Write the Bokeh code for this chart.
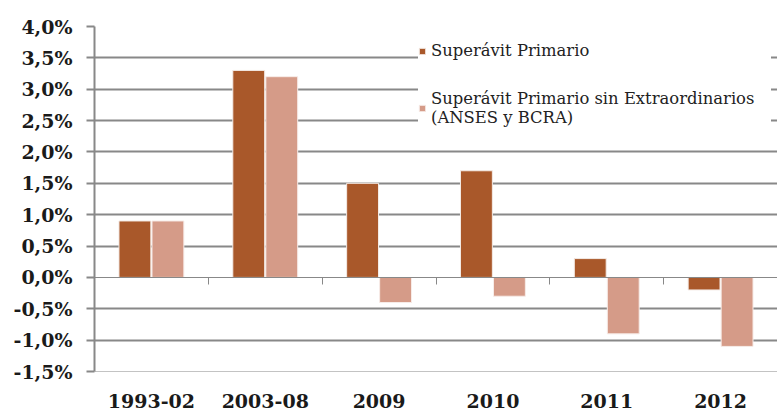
from bokeh.plotting import figure, ColumnDataSource
from bokeh.models import Range1d, FixedTicker, LinearAxis, Legend, LegendItem, Span
from bokeh.transform import dodge
from bokeh.embed import file_html
from bokeh.resources import INLINE

# ---- data ----
categories = ["1993-02", "2003-08", "2009", "2010", "2011", "2012"]
primario = [0.9, 3.3, 1.5, 1.7, 0.3, -0.2]
sin_extraordinarios = [0.9, 3.2, -0.4, -0.3, -0.9, -1.1]
series_names = ["Superávit Primario",
                "Superávit Primario sin Extraordinarios\n(ANSES y BCRA)"]
y_ticks = [-1.5, -1.0, -0.5, 0.0, 0.5, 1.0, 1.5, 2.0, 2.5, 3.0, 3.5, 4.0]
y_labels = ["-1,5%", "-1,0%", "-0,5%", "0,0%", "0,5%", "1,0%",
            "1,5%", "2,0%", "2,5%", "3,0%", "3,5%", "4,0%"]

colors = ["#A9582A", "#D59B88"]
GRID = "#888888"
TXT = "#1a1a1a"

n = len(categories)
centers = [i + 0.5 for i in range(n)]
boundaries = [i for i in range(1, n)]

src = ColumnDataSource(dict(x=centers, a=primario, b=sin_extraordinarios))

p = figure(width=777, height=412, output_backend="svg", toolbar_location=None,
           x_range=Range1d(0, n), y_range=Range1d(y_ticks[0], y_ticks[-1]),
           min_border_left=94, min_border_right=0, min_border_top=26,
           min_border_bottom=41, x_axis_location=None, y_axis_location=None)
p.outline_line_color = None
p.background_fill_color = "white"
p.border_fill_color = "white"

# grid
p.xgrid.visible = False
p.ygrid.ticker = FixedTicker(ticks=[t for t in y_ticks if t not in (0.0, y_ticks[0])])
p.ygrid.grid_line_color = GRID
p.ygrid.grid_line_width = 2
p.add_layout(Span(location=y_ticks[0], dimension="width", line_color=GRID, line_width=1))

# bars
r1 = p.vbar(x=dodge("x", -0.145, range=p.x_range), top="a", bottom=0, width=0.28,
            source=src, fill_color=colors[0], line_color="#f4ebe6", line_width=1)
r2 = p.vbar(x=dodge("x", 0.145, range=p.x_range), top="b", bottom=0, width=0.28,
            source=src, fill_color=colors[1], line_color="#f7ece8", line_width=1)

# left axis
yaxis = LinearAxis(ticker=FixedTicker(ticks=y_ticks))
yaxis.major_label_overrides = {t: l for t, l in zip(y_ticks, y_labels)}
yaxis.axis_line_color = GRID
yaxis.axis_line_width = 2
yaxis.major_tick_line_color = GRID
yaxis.major_tick_line_width = 2
yaxis.major_tick_out = 8
yaxis.major_tick_in = 0
yaxis.minor_tick_line_color = None
yaxis.major_label_standoff = 14
yaxis.major_label_text_font = "DejaVu Serif"
yaxis.major_label_text_font_style = "bold"
yaxis.major_label_text_font_size = "19px"
yaxis.major_label_text_color = TXT
p.add_layout(yaxis, "left")

# zero line with category boundary ticks
zaxis = LinearAxis(ticker=FixedTicker(ticks=boundaries), fixed_location=0)
zaxis.axis_line_color = GRID
zaxis.axis_line_width = 1
zaxis.major_tick_line_color = GRID
zaxis.major_tick_line_width = 1
zaxis.major_tick_out = 7
zaxis.major_tick_in = 0
zaxis.minor_tick_line_color = None
zaxis.major_label_overrides = {b: "" for b in boundaries}
p.add_layout(zaxis, "below")

# category labels
xaxis = LinearAxis(ticker=FixedTicker(ticks=centers))
xaxis.major_label_overrides = {c: l for c, l in zip(centers, categories)}
xaxis.axis_line_color = None
xaxis.major_tick_line_color = None
xaxis.minor_tick_line_color = None
xaxis.major_label_standoff = 16
xaxis.major_label_text_font = "DejaVu Serif"
xaxis.major_label_text_font_style = "bold"
xaxis.major_label_text_font_size = "19px"
xaxis.major_label_text_color = TXT
p.add_layout(xaxis, "below")

legend = Legend(items=[LegendItem(label=series_names[0], renderers=[r1]),
                       LegendItem(label=series_names[1], renderers=[r2])],
                location=(324, 244))
legend.glyph_width = 8
legend.glyph_height = 8
legend.label_standoff = 5
legend.label_width = 340
legend.padding = 24
legend.spacing = 29
legend.label_text_font = "DejaVu Serif"
legend.label_text_font_size = "16.4px"
legend.label_text_color = "#222222"
legend.border_line_color = None
legend.background_fill_color = "white"
legend.background_fill_alpha = 1.0
p.add_layout(legend, "center")

open("out.html", "w").write(file_html(p, INLINE))
